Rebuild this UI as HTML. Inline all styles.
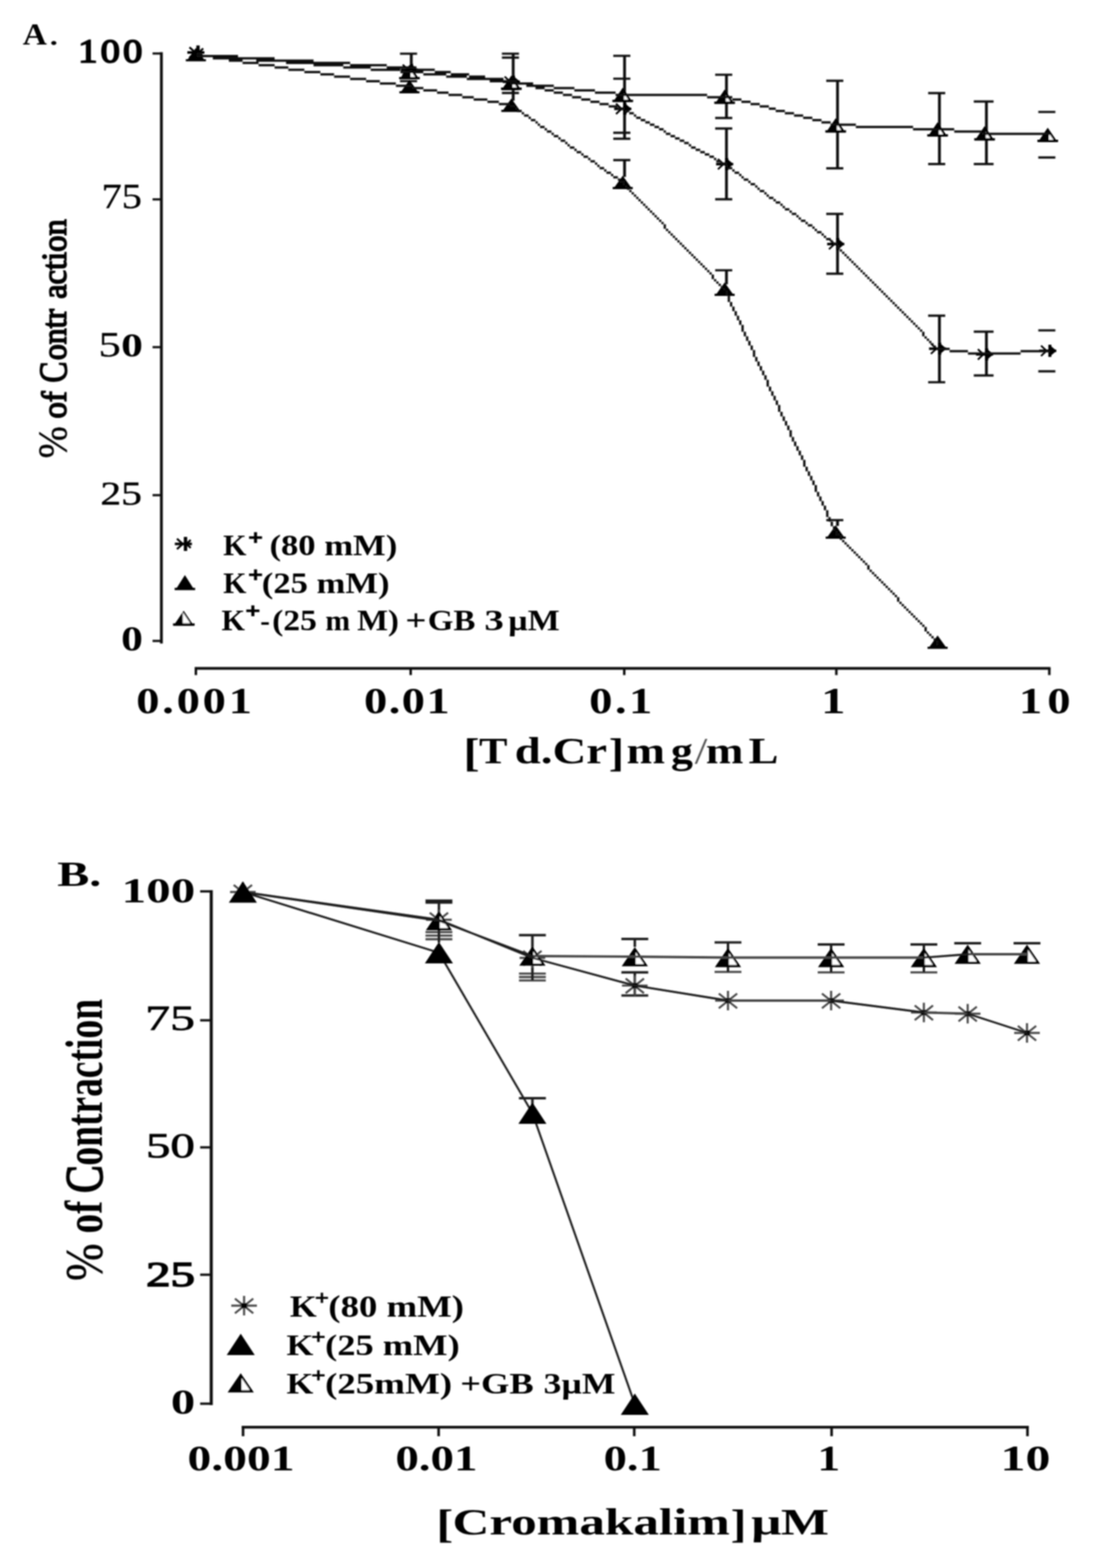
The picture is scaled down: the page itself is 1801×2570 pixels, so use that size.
<!DOCTYPE html>
<html lang="en">
<head>
<meta charset="utf-8">
<title>Figure</title>
<style>
html,body{margin:0;padding:0;background:#fff;}
body{width:1801px;height:2570px;overflow:hidden;}
svg{display:block;}
text{font-family:"Liberation Serif", serif;font-weight:bold;fill:#000;white-space:pre;}
</style>
</head>
<body>
<svg width="1801" height="2570" viewBox="0 0 1801 2570">
<defs>
<filter id="softA" x="-2%" y="-2%" width="104%" height="104%"><feGaussianBlur stdDeviation="0.85"/></filter>
<filter id="softB" x="-2%" y="-2%" width="104%" height="104%"><feGaussianBlur stdDeviation="1.25"/></filter>
<filter id="softT" x="-2%" y="-2%" width="104%" height="104%"><feGaussianBlur stdDeviation="1"/></filter>
</defs>
<rect width="1801" height="2570" fill="#fff"/>
<g id="chartA" filter="url(#softA)">
<path d="M264.5 85.5V1054.7" stroke="#111" stroke-width="4.6" fill="none"/>
<path d="M250 87.7H264.5" stroke="#111" stroke-width="3.6" fill="none"/>
<path d="M250 326.8H264.5" stroke="#111" stroke-width="3.6" fill="none"/>
<path d="M250 569H264.5" stroke="#111" stroke-width="3.6" fill="none"/>
<path d="M250 811.6H264.5" stroke="#111" stroke-width="3.6" fill="none"/>
<path d="M250 1050.5H264.5" stroke="#111" stroke-width="3.6" fill="none"/>
<path d="M319 1095.5H1721.6" stroke="#111" stroke-width="4.4" fill="none"/>
<path d="M321 1095.5V1106.5" stroke="#111" stroke-width="4" fill="none"/>
<path d="M673 1095.5V1106.5" stroke="#111" stroke-width="4" fill="none"/>
<path d="M1023 1095.5V1106.5" stroke="#111" stroke-width="4" fill="none"/>
<path d="M1370.6 1095.5V1106.5" stroke="#111" stroke-width="4" fill="none"/>
<path d="M1719.6 1095.5V1106.5" stroke="#111" stroke-width="4" fill="none"/>
<path d="M655.5 88h28M655.5 133h28M822.5 88h28M822.5 152.4h28M822.5 94.3h28M822.5 146h28M1005.0 91.5h28M1005.0 217.6h28M1005.0 129h28M1005.0 227.4h28M1172.0 122.5h28M1172.0 193.3h28M1172.0 210.6h28M1172.0 326.7h28M1354.0 132.3h28M1354.0 275.8h28M1354.0 350.7h28M1354.0 448.6h28M1521.0 152.7h28M1521.0 268.8h28M1521.0 517.4h28M1521.0 626.5h28M1595.8 166.4h32.4M1595.8 268.8h32.4M1595.8 543.7h32.4M1595.8 615.3h32.4M1701.5 183.5h28M1701.5 258.2h28M1701.5 541.5h28M1701.5 608.6h28M1005.0 262.3h28M1172.0 443h28M1354.0 852.5h28" stroke="#111" stroke-width="3.7" fill="none"/>
<path d="M674.0 88V126M841.0 88V165M1023.5 91.5V227.4M1190.5 122.5V193.3M1190.5 210.6V326.7M1372.5 132.3V275.8M1372.5 350.7V448.6M1539.5 152.7V268.8M1539.5 517.4V626.5M1616.5 166.4V268.8M1616.5 543.7V615.3M1023.5 262.3V290M1190.5 443V466M1372.5 852.5V862" stroke="#111" stroke-width="4.6" fill="none"/>
<path d="M307.0 86h28" stroke="#000" stroke-width="4.2" fill="none"/><path d="M324.5 74.5v23" stroke="#000" stroke-width="5.5" fill="none"/><path d="M310.5 77.5L320.0 86L310.5 94.5M333.0 79.5L326.0 86L333.0 92.5" stroke="#000" stroke-width="3.2" fill="none"/>
<path d="M657.0 114.5h28" stroke="#000" stroke-width="4.2" fill="none"/><path d="M674.5 104.5v20" stroke="#000" stroke-width="5" fill="none"/><path d="M676.0 106.5L685.5 114.5L676.0 122.5Z" fill="#000"/><path d="M660.0 106.0L669.0 114.5L660.0 123.0" stroke="#000" stroke-width="3" fill="none"/>
<path d="M824.0 134h28" stroke="#000" stroke-width="4.2" fill="none"/><path d="M841.5 124v20" stroke="#000" stroke-width="5" fill="none"/><path d="M843.0 126L852.5 134L843.0 142Z" fill="#000"/><path d="M827.0 125.5L836.0 134L827.0 142.5" stroke="#000" stroke-width="3" fill="none"/>
<path d="M1006.5 178.4h28" stroke="#000" stroke-width="4.2" fill="none"/><path d="M1024.0 168.4v20" stroke="#000" stroke-width="5" fill="none"/><path d="M1025.5 170.4L1035.0 178.4L1025.5 186.4Z" fill="#000"/><path d="M1009.5 169.9L1018.5 178.4L1009.5 186.9" stroke="#000" stroke-width="3" fill="none"/>
<path d="M1173.5 269h28" stroke="#000" stroke-width="4.2" fill="none"/><path d="M1191.0 259v20" stroke="#000" stroke-width="5" fill="none"/><path d="M1192.5 261L1202.0 269L1192.5 277Z" fill="#000"/><path d="M1176.5 260.5L1185.5 269L1176.5 277.5" stroke="#000" stroke-width="3" fill="none"/>
<path d="M1355.5 400h28" stroke="#000" stroke-width="4.2" fill="none"/><path d="M1373.0 390v20" stroke="#000" stroke-width="5" fill="none"/><path d="M1374.5 392L1384.0 400L1374.5 408Z" fill="#000"/><path d="M1358.5 391.5L1367.5 400L1358.5 408.5" stroke="#000" stroke-width="3" fill="none"/>
<path d="M1522.5 571.5h28" stroke="#000" stroke-width="4.2" fill="none"/><path d="M1540.0 561.5v20" stroke="#000" stroke-width="5" fill="none"/><path d="M1541.5 563.5L1551.0 571.5L1541.5 579.5Z" fill="#000"/><path d="M1525.5 563.0L1534.5 571.5L1525.5 580.0" stroke="#000" stroke-width="3" fill="none"/>
<path d="M1599.5 580.8h28" stroke="#000" stroke-width="4.2" fill="none"/><path d="M1617.0 570.8v20" stroke="#000" stroke-width="5" fill="none"/><path d="M1618.5 572.8L1628.0 580.8L1618.5 588.8Z" fill="#000"/><path d="M1602.5 572.3L1611.5 580.8L1602.5 589.3" stroke="#000" stroke-width="3" fill="none"/>
<path d="M1703.0 575h28" stroke="#000" stroke-width="4.2" fill="none"/><path d="M1720.5 565v20" stroke="#000" stroke-width="5" fill="none"/><path d="M1722.0 567L1731.5 575L1722.0 583Z" fill="#000"/><path d="M1706.0 566.5L1715.0 575L1706.0 583.5" stroke="#000" stroke-width="3" fill="none"/>
<path d="M655.0 129.8L671.0 106.2L687.0 129.8Z" fill="#000"/><path d="M673.0 115.6L680.1 126.0L673.0 126.0Z" fill="#fff"/><path d="M654.0 128.0h34" stroke="#000" stroke-width="3.6" fill="none"/>
<path d="M822.0 147.2L838.0 123.8L854.0 147.2Z" fill="#000"/><path d="M840.0 133.1L847.1 143.4L840.0 143.4Z" fill="#fff"/><path d="M821.0 145.4h34" stroke="#000" stroke-width="3.6" fill="none"/>
<path d="M1004.5 167.2L1020.5 143.8L1036.5 167.2Z" fill="#000"/><path d="M1022.5 153.1L1029.6 163.4L1022.5 163.4Z" fill="#fff"/><path d="M1003.5 165.4h34" stroke="#000" stroke-width="3.6" fill="none"/>
<path d="M1171.5 170.2L1187.5 146.8L1203.5 170.2Z" fill="#000"/><path d="M1189.5 156.1L1196.6 166.4L1189.5 166.4Z" fill="#fff"/><path d="M1170.5 168.4h34" stroke="#000" stroke-width="3.6" fill="none"/>
<path d="M1353.5 217.2L1369.5 193.8L1385.5 217.2Z" fill="#000"/><path d="M1371.5 203.1L1378.6 213.4L1371.5 213.4Z" fill="#fff"/><path d="M1352.5 215.4h34" stroke="#000" stroke-width="3.6" fill="none"/>
<path d="M1520.5 223.8L1536.5 200.2L1552.5 223.8Z" fill="#000"/><path d="M1538.5 209.6L1545.6 219.9L1538.5 219.9Z" fill="#fff"/><path d="M1519.5 221.9h34" stroke="#000" stroke-width="3.6" fill="none"/>
<path d="M1597.5 230.2L1613.5 206.8L1629.5 230.2Z" fill="#000"/><path d="M1615.5 216.1L1622.6 226.4L1615.5 226.4Z" fill="#fff"/><path d="M1596.5 228.4h34" stroke="#000" stroke-width="3.6" fill="none"/>
<path d="M1701.0 232.8L1717.0 209.2L1733.0 232.8Z" fill="#000"/><path d="M1719.0 218.6L1726.1 228.9L1719.0 228.9Z" fill="#fff"/><path d="M1700.0 230.9h34" stroke="#000" stroke-width="3.6" fill="none"/>
<path d="M306.0 99.5L321.0 78.5L336.0 99.5Z" fill="#000"/><path d="M304.5 98.7h33" stroke="#000" stroke-width="3.6" fill="none"/>
<path d="M656.0 152.0L671.0 131.0L686.0 152.0Z" fill="#000"/><path d="M654.5 151.2h33" stroke="#000" stroke-width="3.6" fill="none"/>
<path d="M823.0 182.5L838.0 161.5L853.0 182.5Z" fill="#000"/><path d="M821.5 181.7h33" stroke="#000" stroke-width="3.6" fill="none"/>
<path d="M1005.5 309.0L1020.5 288.0L1035.5 309.0Z" fill="#000"/><path d="M1004.0 308.2h33" stroke="#000" stroke-width="3.6" fill="none"/>
<path d="M1172.5 484.0L1187.5 463.0L1202.5 484.0Z" fill="#000"/><path d="M1171.0 483.2h33" stroke="#000" stroke-width="3.6" fill="none"/>
<path d="M1354.5 882.0L1369.5 861.0L1384.5 882.0Z" fill="#000"/><path d="M1353.0 881.2h33" stroke="#000" stroke-width="3.6" fill="none"/>
<path d="M1521.5 1062.5L1536.5 1041.5L1551.5 1062.5Z" fill="#000"/><path d="M1520.0 1061.7h33" stroke="#000" stroke-width="3.6" fill="none"/>
<path d="M322.5 86.2h7.5v3.8h-7.5zM330.0 90.0h60.0v3.8h-60.0zM390.0 93.8h60.0v3.8h-60.0zM450.0 97.5h63.8v3.8h-63.8zM513.8 101.2h60.0v3.8h-60.0zM573.8 105.0h60.0v3.8h-60.0zM633.8 108.8h41.2v3.8h-41.2zM671.2 108.8h11.2v3.8h-11.2zM682.5 112.5h30.0v3.8h-30.0zM712.5 116.2h26.2v3.8h-26.2zM738.8 120.0h30.0v3.8h-30.0zM768.8 123.8h26.2v3.8h-26.2zM795.0 127.5h30.0v3.8h-30.0zM825.0 131.2h15.0v3.8h-15.0zM836.2 131.2h11.2v3.8h-11.2zM847.5 135.0h15.0v3.8h-15.0zM862.5 138.8h15.0v3.8h-15.0zM877.5 142.5h15.0v3.8h-15.0zM892.5 146.2h15.0v3.8h-15.0zM907.5 150.0h15.0v3.8h-15.0zM922.5 153.8h15.0v3.8h-15.0zM937.5 157.5h15.0v3.8h-15.0zM952.5 161.2h15.0v3.8h-15.0zM967.5 165.0h15.0v3.8h-15.0zM982.5 168.8h15.0v3.8h-15.0zM997.5 172.5h15.0v3.8h-15.0zM1012.5 176.2h11.2v3.8h-11.2zM1020.0 176.2h3.8v3.8h-3.8zM1023.8 180.0h7.5v3.8h-7.5zM1031.2 183.8h7.5v3.8h-7.5zM1038.8 187.5h3.8v3.8h-3.8zM1042.5 191.2h7.5v3.8h-7.5zM1050.0 195.0h7.5v3.8h-7.5zM1057.5 198.8h7.5v3.8h-7.5zM1065.0 202.5h7.5v3.8h-7.5zM1072.5 206.2h7.5v3.8h-7.5zM1080.0 210.0h7.5v3.8h-7.5zM1087.5 213.8h3.8v3.8h-3.8zM1091.2 217.5h7.5v3.8h-7.5zM1098.8 221.2h7.5v3.8h-7.5zM1106.2 225.0h7.5v3.8h-7.5zM1113.8 228.8h7.5v3.8h-7.5zM1121.2 232.5h7.5v3.8h-7.5zM1128.8 236.2h3.8v3.8h-3.8zM1132.5 240.0h7.5v3.8h-7.5zM1140.0 243.8h7.5v3.8h-7.5zM1147.5 247.5h7.5v3.8h-7.5zM1155.0 251.2h7.5v3.8h-7.5zM1162.5 255.0h7.5v3.8h-7.5zM1170.0 258.8h3.8v3.8h-3.8zM1173.8 262.5h7.5v3.8h-7.5zM1181.2 266.2h11.2v3.8h-11.2zM1188.8 270.0h3.8v3.8h-3.8zM1192.5 273.8h7.5v3.8h-7.5zM1200.0 277.5h3.8v3.8h-3.8zM1203.8 281.2h7.5v3.8h-7.5zM1211.2 285.0h3.8v3.8h-3.8zM1215.0 288.8h3.8v3.8h-3.8zM1218.8 292.5h7.5v3.8h-7.5zM1226.2 296.2h3.8v3.8h-3.8zM1230.0 300.0h7.5v3.8h-7.5zM1237.5 303.8h3.8v3.8h-3.8zM1241.2 307.5h3.8v3.8h-3.8zM1245.0 311.2h7.5v3.8h-7.5zM1252.5 315.0h3.8v3.8h-3.8zM1256.2 318.8h3.8v3.8h-3.8zM1260.0 322.5h7.5v3.8h-7.5zM1267.5 326.2h3.8v3.8h-3.8zM1271.2 330.0h7.5v3.8h-7.5zM1278.8 333.8h3.8v3.8h-3.8zM1282.5 337.5h3.8v3.8h-3.8zM1286.2 341.2h7.5v3.8h-7.5zM1293.8 345.0h3.8v3.8h-3.8zM1297.5 348.8h7.5v3.8h-7.5zM1305.0 352.5h3.8v3.8h-3.8zM1308.8 356.2h3.8v3.8h-3.8zM1312.5 360.0h7.5v3.8h-7.5zM1320.0 363.8h3.8v3.8h-3.8zM1323.8 367.5h7.5v3.8h-7.5zM1331.2 371.2h3.8v3.8h-3.8zM1335.0 375.0h3.8v3.8h-3.8zM1338.8 378.8h7.5v3.8h-7.5zM1346.2 382.5h3.8v3.8h-3.8zM1350.0 386.2h3.8v3.8h-3.8zM1353.8 390.0h7.5v3.8h-7.5zM1361.2 393.8h3.8v3.8h-3.8zM1365.0 397.5h7.5v3.8h-7.5zM1372.5 401.2h3.8v7.5h-3.8zM1376.2 408.8h3.8v3.8h-3.8zM1380.0 412.5h3.8v3.8h-3.8zM1383.8 416.2h3.8v3.8h-3.8zM1387.5 420.0h3.8v3.8h-3.8zM1391.2 423.8h3.8v3.8h-3.8zM1395.0 427.5h3.8v3.8h-3.8zM1398.8 431.2h3.8v3.8h-3.8zM1402.5 435.0h3.8v3.8h-3.8zM1406.2 438.8h3.8v3.8h-3.8zM1410.0 442.5h3.8v3.8h-3.8zM1413.8 446.2h3.8v3.8h-3.8zM1417.5 450.0h3.8v3.8h-3.8zM1421.2 453.8h3.8v3.8h-3.8zM1425.0 457.5h3.8v3.8h-3.8zM1428.8 461.2h3.8v3.8h-3.8zM1432.5 465.0h3.8v3.8h-3.8zM1436.2 468.8h3.8v3.8h-3.8zM1440.0 472.5h3.8v3.8h-3.8zM1443.8 476.2h3.8v3.8h-3.8zM1447.5 480.0h3.8v3.8h-3.8zM1451.2 483.8h3.8v3.8h-3.8zM1455.0 487.5h3.8v3.8h-3.8zM1458.8 491.2h3.8v3.8h-3.8zM1462.5 495.0h3.8v3.8h-3.8zM1466.2 498.8h3.8v3.8h-3.8zM1470.0 502.5h3.8v3.8h-3.8zM1473.8 506.2h3.8v3.8h-3.8zM1477.5 510.0h3.8v3.8h-3.8zM1481.2 513.8h3.8v3.8h-3.8zM1485.0 517.5h3.8v3.8h-3.8zM1488.8 521.2h3.8v3.8h-3.8zM1492.5 525.0h3.8v3.8h-3.8zM1496.2 528.8h3.8v3.8h-3.8zM1500.0 532.5h3.8v3.8h-3.8zM1503.8 536.2h3.8v3.8h-3.8zM1507.5 540.0h3.8v3.8h-3.8zM1511.2 543.8h3.8v7.5h-3.8zM1515.0 551.2h3.8v3.8h-3.8zM1518.8 555.0h3.8v3.8h-3.8zM1522.5 558.8h3.8v3.8h-3.8zM1526.2 562.5h3.8v3.8h-3.8zM1530.0 566.2h3.8v3.8h-3.8zM1533.8 570.0h3.8v3.8h-3.8zM1537.5 570.0h18.8v3.8h-18.8zM1556.2 573.8h30.0v3.8h-30.0zM1586.2 577.5h30.0v3.8h-30.0zM1612.5 577.5h60.0v3.8h-60.0zM1672.5 573.8h48.8v3.8h-48.8zM322.5 86.2h3.8v3.8h-3.8zM326.2 90.0h48.8v3.8h-48.8zM375.0 93.8h45.0v3.8h-45.0zM420.0 97.5h48.8v3.8h-48.8zM468.8 101.2h45.0v3.8h-45.0zM513.8 105.0h48.8v3.8h-48.8zM562.5 108.8h45.0v3.8h-45.0zM607.5 112.5h48.8v3.8h-48.8zM656.2 116.2h18.8v3.8h-18.8zM671.2 116.2h22.5v3.8h-22.5zM693.8 120.0h37.5v3.8h-37.5zM731.2 123.8h33.8v3.8h-33.8zM765.0 127.5h37.5v3.8h-37.5zM802.5 131.2h33.8v3.8h-33.8zM836.2 135.0h3.8v3.8h-3.8zM836.2 135.0h37.5v3.8h-37.5zM873.8 138.8h33.8v3.8h-33.8zM907.5 142.5h33.8v3.8h-33.8zM941.2 146.2h33.8v3.8h-33.8zM975.0 150.0h33.8v3.8h-33.8zM1008.8 153.8h15.0v3.8h-15.0zM1020.0 153.8h138.8v3.8h-138.8zM1158.8 157.5h33.8v3.8h-33.8zM1188.8 157.5h11.2v3.8h-11.2zM1200.0 161.2h15.0v3.8h-15.0zM1215.0 165.0h15.0v3.8h-15.0zM1230.0 168.8h15.0v3.8h-15.0zM1245.0 172.5h15.0v3.8h-15.0zM1260.0 176.2h11.2v3.8h-11.2zM1271.2 180.0h15.0v3.8h-15.0zM1286.2 183.8h15.0v3.8h-15.0zM1301.2 187.5h15.0v3.8h-15.0zM1316.2 191.2h15.0v3.8h-15.0zM1331.2 195.0h15.0v3.8h-15.0zM1346.2 198.8h15.0v3.8h-15.0zM1361.2 202.5h11.2v3.8h-11.2zM1368.8 202.5h33.8v3.8h-33.8zM1402.5 206.2h93.8v3.8h-93.8zM1496.2 210.0h45.0v3.8h-45.0zM1537.5 210.0h26.2v3.8h-26.2zM1563.8 213.8h45.0v3.8h-45.0zM1608.8 217.5h7.5v3.8h-7.5zM1612.5 217.5h108.8v3.8h-108.8zM322.5 90.0h26.2v3.8h-26.2zM348.8 93.8h26.2v3.8h-26.2zM375.0 97.5h22.5v3.8h-22.5zM397.5 101.2h26.2v3.8h-26.2zM423.8 105.0h26.2v3.8h-26.2zM450.0 108.8h22.5v3.8h-22.5zM472.5 112.5h26.2v3.8h-26.2zM498.8 116.2h26.2v3.8h-26.2zM525.0 120.0h22.5v3.8h-22.5zM547.5 123.8h26.2v3.8h-26.2zM573.8 127.5h26.2v3.8h-26.2zM600.0 131.2h22.5v3.8h-22.5zM622.5 135.0h26.2v3.8h-26.2zM648.8 138.8h26.2v3.8h-26.2zM671.2 138.8h3.8v3.8h-3.8zM675.0 142.5h18.8v3.8h-18.8zM693.8 146.2h22.5v3.8h-22.5zM716.2 150.0h18.8v3.8h-18.8zM735.0 153.8h22.5v3.8h-22.5zM757.5 157.5h18.8v3.8h-18.8zM776.2 161.2h22.5v3.8h-22.5zM798.8 165.0h18.8v3.8h-18.8zM817.5 168.8h18.8v3.8h-18.8zM836.2 172.5h3.8v3.8h-3.8zM836.2 172.5h7.5v3.8h-7.5zM843.8 176.2h3.8v3.8h-3.8zM847.5 180.0h7.5v3.8h-7.5zM855.0 183.8h3.8v3.8h-3.8zM858.8 187.5h7.5v3.8h-7.5zM866.2 191.2h3.8v3.8h-3.8zM870.0 195.0h7.5v3.8h-7.5zM877.5 198.8h3.8v3.8h-3.8zM881.2 202.5h3.8v3.8h-3.8zM885.0 206.2h7.5v3.8h-7.5zM892.5 210.0h3.8v3.8h-3.8zM896.2 213.8h7.5v3.8h-7.5zM903.8 217.5h3.8v3.8h-3.8zM907.5 221.2h7.5v3.8h-7.5zM915.0 225.0h3.8v3.8h-3.8zM918.8 228.8h7.5v3.8h-7.5zM926.2 232.5h3.8v3.8h-3.8zM930.0 236.2h3.8v3.8h-3.8zM933.8 240.0h7.5v3.8h-7.5zM941.2 243.8h3.8v3.8h-3.8zM945.0 247.5h7.5v3.8h-7.5zM952.5 251.2h3.8v3.8h-3.8zM956.2 255.0h7.5v3.8h-7.5zM963.8 258.8h3.8v3.8h-3.8zM967.5 262.5h7.5v3.8h-7.5zM975.0 266.2h3.8v3.8h-3.8zM978.8 270.0h3.8v3.8h-3.8zM982.5 273.8h7.5v3.8h-7.5zM990.0 277.5h3.8v3.8h-3.8zM993.8 281.2h7.5v3.8h-7.5zM1001.2 285.0h3.8v3.8h-3.8zM1005.0 288.8h7.5v3.8h-7.5zM1012.5 292.5h3.8v3.8h-3.8zM1016.2 296.2h7.5v3.8h-7.5zM1020.0 300.0h3.8v3.8h-3.8zM1023.8 303.8h3.8v3.8h-3.8zM1027.5 307.5h3.8v3.8h-3.8zM1031.2 311.2h3.8v3.8h-3.8zM1035.0 315.0h3.8v3.8h-3.8zM1038.8 318.8h3.8v3.8h-3.8zM1042.5 322.5h3.8v3.8h-3.8zM1046.2 326.2h3.8v3.8h-3.8zM1050.0 330.0h3.8v3.8h-3.8zM1053.8 333.8h3.8v3.8h-3.8zM1057.5 337.5h3.8v3.8h-3.8zM1061.2 341.2h3.8v3.8h-3.8zM1065.0 345.0h3.8v3.8h-3.8zM1068.8 348.8h3.8v3.8h-3.8zM1072.5 352.5h3.8v3.8h-3.8zM1076.2 356.2h3.8v3.8h-3.8zM1080.0 360.0h3.8v3.8h-3.8zM1083.8 363.8h3.8v3.8h-3.8zM1087.5 367.5h3.8v7.5h-3.8zM1091.2 375.0h3.8v3.8h-3.8zM1095.0 378.8h3.8v3.8h-3.8zM1098.8 382.5h3.8v3.8h-3.8zM1102.5 386.2h3.8v3.8h-3.8zM1106.2 390.0h3.8v3.8h-3.8zM1110.0 393.8h3.8v3.8h-3.8zM1113.8 397.5h3.8v3.8h-3.8zM1117.5 401.2h3.8v3.8h-3.8zM1121.2 405.0h3.8v3.8h-3.8zM1125.0 408.8h3.8v3.8h-3.8zM1128.8 412.5h3.8v3.8h-3.8zM1132.5 416.2h3.8v3.8h-3.8zM1136.2 420.0h3.8v3.8h-3.8zM1140.0 423.8h3.8v3.8h-3.8zM1143.8 427.5h3.8v3.8h-3.8zM1147.5 431.2h3.8v3.8h-3.8zM1151.2 435.0h3.8v3.8h-3.8zM1155.0 438.8h3.8v3.8h-3.8zM1158.8 442.5h3.8v3.8h-3.8zM1162.5 446.2h3.8v3.8h-3.8zM1166.2 450.0h3.8v7.5h-3.8zM1170.0 457.5h3.8v3.8h-3.8zM1173.8 461.2h3.8v3.8h-3.8zM1177.5 465.0h3.8v3.8h-3.8zM1181.2 468.8h3.8v3.8h-3.8zM1185.0 472.5h3.8v3.8h-3.8zM1185.0 472.5h3.8v3.8h-3.8zM1188.8 476.2h3.8v7.5h-3.8zM1192.5 483.8h3.8v11.2h-3.8zM1196.2 495.0h3.8v7.5h-3.8zM1200.0 502.5h3.8v7.5h-3.8zM1203.8 510.0h3.8v7.5h-3.8zM1207.5 517.5h3.8v7.5h-3.8zM1211.2 525.0h3.8v7.5h-3.8zM1215.0 532.5h3.8v11.2h-3.8zM1218.8 543.8h3.8v7.5h-3.8zM1222.5 551.2h3.8v7.5h-3.8zM1226.2 558.8h3.8v7.5h-3.8zM1230.0 566.2h3.8v7.5h-3.8zM1233.8 573.8h3.8v11.2h-3.8zM1237.5 585.0h3.8v7.5h-3.8zM1241.2 592.5h3.8v7.5h-3.8zM1245.0 600.0h3.8v7.5h-3.8zM1248.8 607.5h3.8v7.5h-3.8zM1252.5 615.0h3.8v7.5h-3.8zM1256.2 622.5h3.8v11.2h-3.8zM1260.0 633.8h3.8v7.5h-3.8zM1263.8 641.2h3.8v7.5h-3.8zM1267.5 648.8h3.8v7.5h-3.8zM1271.2 656.2h3.8v7.5h-3.8zM1275.0 663.8h3.8v11.2h-3.8zM1278.8 675.0h3.8v7.5h-3.8zM1282.5 682.5h3.8v7.5h-3.8zM1286.2 690.0h3.8v7.5h-3.8zM1290.0 697.5h3.8v7.5h-3.8zM1293.8 705.0h3.8v11.2h-3.8zM1297.5 716.2h3.8v7.5h-3.8zM1301.2 723.8h3.8v7.5h-3.8zM1305.0 731.2h3.8v7.5h-3.8zM1308.8 738.8h3.8v7.5h-3.8zM1312.5 746.2h3.8v7.5h-3.8zM1316.2 753.8h3.8v11.2h-3.8zM1320.0 765.0h3.8v7.5h-3.8zM1323.8 772.5h3.8v7.5h-3.8zM1327.5 780.0h3.8v7.5h-3.8zM1331.2 787.5h3.8v7.5h-3.8zM1335.0 795.0h3.8v11.2h-3.8zM1338.8 806.2h3.8v7.5h-3.8zM1342.5 813.8h3.8v7.5h-3.8zM1346.2 821.2h3.8v7.5h-3.8zM1350.0 828.8h3.8v7.5h-3.8zM1353.8 836.2h3.8v11.2h-3.8zM1357.5 847.5h3.8v7.5h-3.8zM1361.2 855.0h3.8v7.5h-3.8zM1365.0 862.5h3.8v7.5h-3.8zM1368.8 870.0h3.8v7.5h-3.8zM1372.5 873.8h3.8v3.8h-3.8zM1376.2 877.5h3.8v7.5h-3.8zM1380.0 885.0h3.8v3.8h-3.8zM1383.8 888.8h3.8v3.8h-3.8zM1387.5 892.5h3.8v3.8h-3.8zM1391.2 896.2h3.8v3.8h-3.8zM1395.0 900.0h3.8v3.8h-3.8zM1398.8 903.8h3.8v3.8h-3.8zM1402.5 907.5h3.8v3.8h-3.8zM1406.2 911.2h3.8v3.8h-3.8zM1410.0 915.0h3.8v3.8h-3.8zM1413.8 918.8h3.8v3.8h-3.8zM1417.5 922.5h3.8v3.8h-3.8zM1421.2 926.2h3.8v7.5h-3.8zM1425.0 933.8h3.8v3.8h-3.8zM1428.8 937.5h3.8v3.8h-3.8zM1432.5 941.2h3.8v3.8h-3.8zM1436.2 945.0h3.8v3.8h-3.8zM1440.0 948.8h3.8v3.8h-3.8zM1443.8 952.5h3.8v3.8h-3.8zM1447.5 956.2h3.8v3.8h-3.8zM1451.2 960.0h3.8v3.8h-3.8zM1455.0 963.8h3.8v3.8h-3.8zM1458.8 967.5h3.8v3.8h-3.8zM1462.5 971.2h3.8v3.8h-3.8zM1466.2 975.0h3.8v3.8h-3.8zM1470.0 978.8h3.8v7.5h-3.8zM1473.8 986.2h3.8v3.8h-3.8zM1477.5 990.0h3.8v3.8h-3.8zM1481.2 993.8h3.8v3.8h-3.8zM1485.0 997.5h3.8v3.8h-3.8zM1488.8 1001.2h3.8v3.8h-3.8zM1492.5 1005.0h3.8v3.8h-3.8zM1496.2 1008.8h3.8v3.8h-3.8zM1500.0 1012.5h3.8v3.8h-3.8zM1503.8 1016.2h3.8v3.8h-3.8zM1507.5 1020.0h3.8v3.8h-3.8zM1511.2 1023.8h3.8v3.8h-3.8zM1515.0 1027.5h3.8v7.5h-3.8zM1518.8 1035.0h3.8v3.8h-3.8zM1522.5 1038.8h3.8v3.8h-3.8zM1526.2 1042.5h3.8v3.8h-3.8zM1530.0 1046.2h3.8v3.8h-3.8zM1533.8 1050.0h3.8v7.5h-3.8z" fill="#111"/>
<path d="M286.5 891.5h28" stroke="#000" stroke-width="4.2" fill="none"/><path d="M304.0 880.0v23" stroke="#000" stroke-width="5.5" fill="none"/><path d="M290.0 883.0L299.5 891.5L290.0 900.0M312.5 885.0L305.5 891.5L312.5 898.0" stroke="#000" stroke-width="3.2" fill="none"/>
<path d="M287.5 966.9L303.0 942.4L318.5 966.9Z" fill="#000"/><path d="M286.2 965.4h33.6" stroke="#000" stroke-width="3.6" fill="none"/>
<path d="M284.5 1025.5L301.0 1001.0L317.5 1025.5Z" fill="#000"/><path d="M299.5 1003.6L311.7 1021.7L299.5 1021.7Z" fill="#fff"/><path d="M283.5 1023.6h35.5" stroke="#000" stroke-width="3.6" fill="none"/>
</g>
<g id="chartB" filter="url(#softB)">
<path d="M346.2 1459V2303" stroke="#111" stroke-width="5" fill="none"/>
<path d="M328 1461H346" stroke="#111" stroke-width="3.8" fill="none"/>
<path d="M328 1672.3H346" stroke="#111" stroke-width="3.8" fill="none"/>
<path d="M328 1880.6H346" stroke="#111" stroke-width="3.8" fill="none"/>
<path d="M328 2089.3H346" stroke="#111" stroke-width="3.8" fill="none"/>
<path d="M328 2300.7H346" stroke="#111" stroke-width="3.8" fill="none"/>
<path d="M396 2339.3H1686" stroke="#111" stroke-width="4.6" fill="none"/>
<path d="M398.3 2339.3V2354" stroke="#111" stroke-width="4.2" fill="none"/>
<path d="M718.8 2339.3V2354" stroke="#111" stroke-width="4.2" fill="none"/>
<path d="M1039.4 2339.3V2354" stroke="#111" stroke-width="4.2" fill="none"/>
<path d="M1362.8 2339.3V2354" stroke="#111" stroke-width="4.2" fill="none"/>
<path d="M1683.8 2339.3V2354" stroke="#111" stroke-width="4.2" fill="none"/>
<path d="M697.3 1476.2h44M697.3 1479.4h44M850.5 1532.8h44M1018.3 1539h44M1018.3 1593.8h44M1018.3 1631.6h44M1171.0 1544.6h44M1340.0 1548h44M1492.0 1548h44M1563.8 1546h44M1661.0 1546h44M850.5 1800h44" stroke="#1c1c1c" stroke-width="3.9" fill="none"/>
<path d="M697.3 1539.4h44M697.3 1533.5h44M697.3 1527.8h44M850.5 1607h44M850.5 1595.8h44M850.5 1601.4h44M1171.0 1593h44M1340.0 1593.8h44M1492.0 1593.8h44" stroke="#4a4a4a" stroke-width="3.6" fill="none"/>
<path d="M719.3 1477.8V1545M872.5 1532.8V1607M1040.3 1539V1552M1040.3 1593.8V1631.6M1193.0 1544.6V1593M1362.0 1548V1593.8M1514.0 1548V1593.8M872.5 1800V1810" stroke="#1c1c1c" stroke-width="4.0" fill="none"/>
<path d="M377.0 1462h42M398.0 1446v32M383.0 1450.5l30 24M383.0 1474.5l30 -24" stroke="#484848" stroke-width="3.4" fill="none"/><rect x="393.5" y="1458" width="9" height="8" fill="#000"/>
<path d="M698.3 1507.5h42M719.3 1491.5v32M704.3 1496.0l30 24M704.3 1520.0l30 -24" stroke="#484848" stroke-width="3.4" fill="none"/><rect x="714.8" y="1503.5" width="9" height="8" fill="#000"/>
<path d="M851.5 1570h42M872.5 1554v32M857.5 1558.5l30 24M857.5 1582.5l30 -24" stroke="#484848" stroke-width="3.4" fill="none"/><rect x="868.0" y="1566" width="9" height="8" fill="#000"/>
<path d="M1019.3 1615.4h42M1040.3 1599.4v32M1025.3 1603.9l30 24M1025.3 1627.9l30 -24" stroke="#484848" stroke-width="3.4" fill="none"/><rect x="1035.8" y="1611.4" width="9" height="8" fill="#000"/>
<path d="M1172.0 1640h42M1193.0 1624v32M1178.0 1628.5l30 24M1178.0 1652.5l30 -24" stroke="#484848" stroke-width="3.4" fill="none"/><rect x="1188.5" y="1636" width="9" height="8" fill="#000"/>
<path d="M1341.0 1640h42M1362.0 1624v32M1347.0 1628.5l30 24M1347.0 1652.5l30 -24" stroke="#484848" stroke-width="3.4" fill="none"/><rect x="1357.5" y="1636" width="9" height="8" fill="#000"/>
<path d="M1493.0 1659.5h42M1514.0 1643.5v32M1499.0 1648.0l30 24M1499.0 1672.0l30 -24" stroke="#484848" stroke-width="3.4" fill="none"/><rect x="1509.5" y="1655.5" width="9" height="8" fill="#000"/>
<path d="M1564.8 1661.5h42M1585.8 1645.5v32M1570.8 1650.0l30 24M1570.8 1674.0l30 -24" stroke="#484848" stroke-width="3.4" fill="none"/><rect x="1581.3" y="1657.5" width="9" height="8" fill="#000"/>
<path d="M1662.0 1693h42M1683.0 1677v32M1668.0 1681.5l30 24M1668.0 1705.5l30 -24" stroke="#484848" stroke-width="3.4" fill="none"/><rect x="1678.5" y="1689" width="9" height="8" fill="#000"/>
<path d="M697.8 1524.8L719.3 1493.2L740.8 1524.8Z" fill="#000"/><path d="M720.8 1501.5L734.1 1521.0L720.8 1521.0Z" fill="#fff"/>
<path d="M851.0 1582.8L872.5 1551.2L894.0 1582.8Z" fill="#000"/><path d="M874.0 1559.5L887.3 1579.0L874.0 1579.0Z" fill="#fff"/>
<path d="M1018.8 1583.8L1040.3 1552.2L1061.8 1583.8Z" fill="#000"/><path d="M1041.8 1560.5L1055.1 1580.0L1041.8 1580.0Z" fill="#fff"/>
<path d="M1171.5 1585.2L1193.0 1553.8L1214.5 1585.2Z" fill="#000"/><path d="M1194.5 1562.0L1207.8 1581.5L1194.5 1581.5Z" fill="#fff"/>
<path d="M1340.5 1585.2L1362.0 1553.8L1383.5 1585.2Z" fill="#000"/><path d="M1363.5 1562.0L1376.8 1581.5L1363.5 1581.5Z" fill="#fff"/>
<path d="M1492.5 1585.2L1514.0 1553.8L1535.5 1585.2Z" fill="#000"/><path d="M1515.5 1562.0L1528.8 1581.5L1515.5 1581.5Z" fill="#fff"/>
<path d="M1564.3 1579.8L1585.8 1548.2L1607.3 1579.8Z" fill="#000"/><path d="M1587.3 1556.5L1600.6 1576.0L1587.3 1576.0Z" fill="#fff"/>
<path d="M1661.5 1579.8L1683.0 1548.2L1704.5 1579.8Z" fill="#000"/><path d="M1684.5 1556.5L1697.8 1576.0L1684.5 1576.0Z" fill="#fff"/>
<path d="M1193.0 1640.0L1362.0 1640.0M1514.0 1659.5L1585.8 1661.5M872.5 1567.0L1040.3 1568.0M1040.3 1568.0L1193.0 1569.5M1193.0 1569.5L1362.0 1569.5M1362.0 1569.5L1514.0 1569.5M1585.8 1564.0L1683.0 1564.0" stroke="#444" stroke-width="3.8" fill="none" stroke-linecap="round"/>
<path d="M398.0 1462.0L719.3 1507.5M719.3 1507.5L872.5 1570.0M872.5 1570.0L1040.3 1615.4M1040.3 1615.4L1193.0 1640.0M1362.0 1640.0L1514.0 1659.5M1585.8 1661.5L1683.0 1693.0M398.0 1462.0L719.3 1509.0M719.3 1509.0L872.5 1567.0M1514.0 1569.5L1585.8 1564.0M398.0 1462.0L719.3 1561.5M719.3 1561.5L872.5 1824.5M872.5 1824.5L1040.3 2301.5" stroke="#1c1c1c" stroke-width="3.3" fill="none" stroke-linecap="round"/>
<path d="M375.0 1479.5L398.0 1444.5L421.0 1479.5Z" fill="#000"/>
<path d="M696.3 1579.0L719.3 1544.0L742.3 1579.0Z" fill="#000"/>
<path d="M849.5 1842.0L872.5 1807.0L895.5 1842.0Z" fill="#000"/>
<path d="M1017.3 2319.0L1040.3 2284.0L1063.3 2319.0Z" fill="#000"/>
<path d="M379.0 2140h42M400.0 2124v32M385.0 2128.5l30 24M385.0 2152.5l30 -24" stroke="#484848" stroke-width="3.4" fill="none"/><rect x="395.5" y="2136" width="9" height="8" fill="#000"/>
<path d="M371.5 2221.0L394.5 2186.0L417.5 2221.0Z" fill="#000"/>
<path d="M373.0 2282.2L394.5 2250.8L416.0 2282.2Z" fill="#000"/><path d="M396.0 2259.0L409.3 2278.4L396.0 2278.4Z" fill="#fff"/>
</g>
<g id="labelsA" filter="url(#softT)">
<text transform="translate(37.20 72.60) scale(1.0738 1)" font-size="51.05">A</text><text transform="translate(79.80 72.60) scale(1.3163 1)" font-size="51.05" style="font-weight:normal;stroke:#000;stroke-width:0.5px">.</text>
<text transform="translate(128.29 101.95) scale(1.1617 1)" font-size="54.11" style="font-weight:normal;stroke:#000;stroke-width:2.6px" letter-spacing="4.56">100</text>
<text transform="translate(166.46 341.32) scale(1.1706 1)" font-size="56.56" style="font-weight:normal;stroke:#000;stroke-width:0.4px">75</text>
<text transform="translate(161.58 584.22) scale(1.2977 1)" font-size="56.26" style="font-weight:normal;stroke:#000;stroke-width:0.4px">5</text><text transform="translate(198.57 584.24) scale(1.2971 1)" font-size="54.98">0</text>
<text transform="translate(164.47 827.43) scale(1.2318 1)" font-size="55.42" style="font-weight:normal;stroke:#000;stroke-width:0.6px">25</text>
<text transform="translate(198.57 1065.82) scale(1.2669 1)" font-size="56.29">0</text>
<text transform="translate(108.94 751.18) rotate(-90) scale(0.9309 1)" font-size="67.93" style="font-weight:normal;stroke:#000;stroke-width:0.7px">% </text><text transform="translate(108.32 686.08) rotate(-90) scale(0.9558 1)" font-size="56.40" style="font-weight:normal;stroke:#000;stroke-width:2.4px">of </text><text transform="translate(108.57 627.22) rotate(-90) scale(0.7890 1)" font-size="65.75" style="font-weight:normal;stroke:#000;stroke-width:2.2px">C</text><text transform="translate(108.32 590.23) rotate(-90) scale(0.9233 1)" font-size="56.40" style="font-weight:normal;stroke:#000;stroke-width:2.4px">ontr</text><text transform="translate(108.32 489.87) rotate(-90) scale(0.9468 1)" font-size="56.40" style="font-weight:normal;stroke:#000;stroke-width:2.4px">action</text>
<text transform="translate(365.73 910.00) scale(1.0045 1)" font-size="48.76">K</text><text transform="translate(407.06 891.85) scale(1.1905 1)" font-size="34.68" style="stroke:#000;stroke-width:1.8px">+</text><text transform="translate(441.63 910.00) scale(1.1630 1)" font-size="48.76">(80 mM)</text>
<text transform="translate(365.73 971.70) scale(0.9982 1)" font-size="49.07">K</text><text transform="translate(407.06 953.23) scale(1.1976 1)" font-size="34.48" style="stroke:#000;stroke-width:1.8px">+</text><text transform="translate(429.03 971.70) scale(1.1558 1)" font-size="49.07">(25 mM)</text>
<text transform="translate(362.93 1033.00) scale(1.0125 1)" font-size="48.76">K</text><text transform="translate(402.45 1011.61) scale(1.2169 1)" font-size="34.27" style="stroke:#000;stroke-width:1.8px">+</text><text transform="translate(426.52 1033.00) scale(0.9728 1)" font-size="48.76">-</text><text transform="translate(445.88 1033.00) scale(1.1283 1)" font-size="48.76">(25 </text><text transform="translate(533.24 1033.00) scale(0.9970 1)" font-size="48.76">m</text><text transform="translate(585.16 1033.00) scale(1.1015 1)" font-size="48.76">M) </text><text transform="translate(664.15 1033.00) scale(1.2490 1)" font-size="48.76">+</text><text transform="translate(700.97 1033.00) scale(1.1079 1)" font-size="48.76">GB </text><text transform="translate(793.81 1033.00) scale(1.3078 1)" font-size="48.76">3</text><text transform="translate(832.63 1033.00) scale(1.1413 1)" font-size="48.76">µM</text>
<text transform="translate(223.21 1169.04) scale(1.2437 1)" font-size="61.38" letter-spacing="3.62">0.001</text>
<text transform="translate(596.41 1169.04) scale(1.2437 1)" font-size="61.38" letter-spacing="1.87">0.01</text>
<text transform="translate(965.61 1169.04) scale(1.2437 1)" font-size="61.38" letter-spacing="3.19">0.1</text>
<text transform="translate(1345.55 1169.04) scale(1.3033 1)" font-size="61.38">1</text>
<text transform="translate(1669.64 1169.04) scale(1.2437 1)" font-size="61.38" letter-spacing="6.76">10</text>
<text transform="translate(759.44 1255.57) scale(1.2087 1)" font-size="65.66">[</text><text transform="translate(784.91 1251.40) scale(1.1278 1)" font-size="61.87">T</text><text transform="translate(843.60 1251.40) scale(1.2399 1)" font-size="61.87">d.Cr</text><text transform="translate(997.67 1255.57) scale(1.1372 1)" font-size="65.66">]</text><text transform="translate(1026.82 1251.40) scale(1.2235 1)" font-size="61.87">m</text><text transform="translate(1099.57 1251.40) scale(1.1646 1)" font-size="61.87">g</text><text transform="translate(1138.40 1251.40) scale(1.2069 1)" font-size="61.87" style="font-weight:normal;fill:#555">/</text><text transform="translate(1156.85 1251.40) scale(1.1936 1)" font-size="61.87">m</text><text transform="translate(1226.85 1251.40) scale(1.1857 1)" font-size="61.87">L</text>
</g>
<g id="labelsB" filter="url(#softT)">
<text transform="translate(93.77 1452.41) scale(1.3830 1)" font-size="57.00">B.</text>
<text transform="translate(199.32 1479.11) scale(1.4172 1)" font-size="56.73">100</text>
<text transform="translate(237.91 1687.70) scale(1.4175 1)" font-size="57.45" style="font-weight:normal;stroke:#000;stroke-width:1.0px">75</text>
<text transform="translate(239.25 1896.82) scale(1.4222 1)" font-size="56.29" style="font-weight:normal;stroke:#000;stroke-width:1.1px">50</text>
<text transform="translate(239.51 2108.30) scale(1.3782 1)" font-size="57.89" style="font-weight:normal;stroke:#000;stroke-width:2.2px">25</text>
<text transform="translate(280.01 2317.11) scale(1.4062 1)" font-size="56.73">0</text>
<text transform="translate(167.25 2099.50) rotate(-90) scale(0.8562 1)" font-size="86.11" style="font-weight:normal;stroke:#000;stroke-width:0.8px">% </text><text transform="translate(167.25 2021.71) rotate(-90) scale(0.7461 1)" font-size="86.11">of </text><text transform="translate(167.25 1955.55) rotate(-90) scale(0.7980 1)" font-size="86.11" style="font-weight:normal;stroke:#000;stroke-width:2.6px">C</text><text transform="translate(167.25 1910.52) rotate(-90) scale(0.7139 1)" font-size="86.11">ontraction</text>
<text transform="translate(475.02 2157.70) scale(1.1350 1)" font-size="49.83">K</text><text transform="translate(515.90 2138.10) scale(1.2250 1)" font-size="33.03" style="stroke:#000;stroke-width:1.0px">+</text><text transform="translate(538.12 2157.70) scale(1.2084 1)" font-size="49.83">(80 mM)</text>
<text transform="translate(469.42 2221.20) scale(1.1526 1)" font-size="49.07">K</text><text transform="translate(510.06 2202.10) scale(1.2500 1)" font-size="33.03" style="stroke:#000;stroke-width:1.0px">+</text><text transform="translate(532.73 2221.20) scale(1.2182 1)" font-size="49.07">(25 mM)</text>
<text transform="translate(469.42 2284.40) scale(1.1745 1)" font-size="48.15">K</text><text transform="translate(510.06 2265.10) scale(1.2500 1)" font-size="33.03" style="stroke:#000;stroke-width:1.0px">+</text><text transform="translate(532.71 2284.40) scale(1.2563 1)" font-size="48.15">(25mM) </text><text transform="translate(754.20 2284.40) scale(1.2409 1)" font-size="48.15">+GB </text><text transform="translate(890.78 2284.40) scale(1.2111 1)" font-size="48.15">3µM</text>
<text transform="translate(307.37 2409.59) scale(1.3390 1)" font-size="58.18">0.001</text>
<text transform="translate(647.89 2409.59) scale(1.3231 1)" font-size="58.18">0.01</text>
<text transform="translate(989.22 2409.59) scale(1.3112 1)" font-size="58.18">0.1</text>
<text transform="translate(1339.57 2409.59) scale(1.2833 1)" font-size="58.18">1</text>
<text transform="translate(1639.61 2409.59) scale(1.4049 1)" font-size="58.18">10</text>
<text transform="translate(715.10 2519.67) scale(1.2536 1)" font-size="66.37">[</text><text transform="translate(741.47 2515.00) scale(1.3547 1)" font-size="61.87">Cromakalim</text><text transform="translate(1197.60 2519.67) scale(1.1571 1)" font-size="66.37">]</text><text transform="translate(1230.64 2515.00) scale(1.4099 1)" font-size="61.87">µ</text><text transform="translate(1279.70 2515.00) scale(1.3484 1)" font-size="61.87">M</text>
</g>
</svg>
</body>
</html>
